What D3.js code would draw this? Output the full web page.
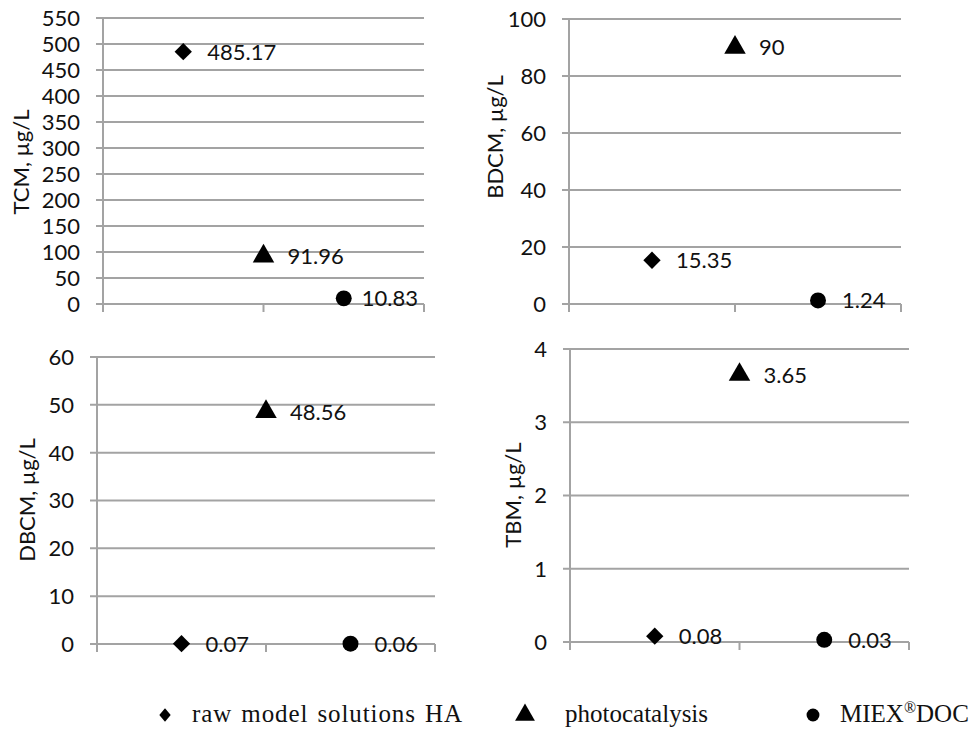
<!DOCTYPE html>
<html lang="en">
<head>
  <meta charset="UTF-8">
  <title>THM concentrations - D3</title>
  <script src="https://cdn.jsdelivr.net/npm/d3@7"></script>
  <style>
    body { margin: 0; background: #fff; }
    svg text { font-family: Lato, "Open Sans", sans-serif; fill: #111; }
  </style>
</head>
<body>
<script>
  // series (one point per panel each)
  var series = ['raw model solutions HA', 'photocatalysis', 'MIEX®DOC'];
  var seriesX = [1, 2, 3];
  var tcm = [485.17, 91.96, 10.83];
  var bdcm = [15.35, 90, 1.24];
  var dbcm = [0.07, 48.56, 0.06];
  var tbm = [0.08, 3.65, 0.03];
  var axisTitles = ['TCM, µg/L', 'BDCM, µg/L', 'DBCM, µg/L', 'TBM, µg/L'];
  var yMax = [550, 100, 60, 4];
  var yStep = [50, 20, 10, 1];

  // panel boxes (layout only)
  var panels = [
    {vals: tcm,  x0: 103, x1: 424, y0: 18,  y1: 304, tx: 21,  ty: 162},
    {vals: bdcm, x0: 569, x1: 901, y0: 19,  y1: 304, tx: 495, ty: 137},
    {vals: dbcm, x0: 97,  x1: 435, y0: 357, y1: 644, tx: 27,  ty: 500},
    {vals: tbm,  x0: 570, x1: 909, y0: 349, y1: 642, tx: 513, ty: 495}
  ];

  var svg = d3.select('body').append('svg')
    .attr('width', 971)
    .attr('height', 729);

  var grey = '#a3a3a3';

  function marker(sel, i, size) {
    var types = [d3.symbolSquare, d3.symbolTriangle, d3.symbolCircle];
    return sel.append('path')
      .attr('d', d3.symbol().type(types[i]).size(size[i]))
      .attr('fill', '#000');
  }

  panels.forEach(function(p, k) {
    var x = d3.scaleLinear().domain([0, 4]).range([p.x0, p.x1]);
    var y = d3.scaleLinear().domain([0, yMax[k]]).range([p.y1, p.y0]);
    var g = svg.append('g');

    // gridlines + y labels
    var yt = d3.range(0, yMax[k] + yStep[k] / 2, yStep[k]);
    g.selectAll('line.grid').data(yt).enter().append('line')
      .attr('x1', p.x0 - 7).attr('x2', p.x1)
      .attr('y1', function(d) { return y(d); })
      .attr('y2', function(d) { return y(d); })
      .attr('stroke', grey).attr('stroke-width', 2);

    g.selectAll('text.yl').data(yt).enter().append('text')
      .attr('x', p.x0 - 23)
      .attr('y', function(d) { return y(d); })
      .attr('dy', '0.36em')
      .attr('text-anchor', 'end')
      .style('font-size', '22px')
      .text(function(d) { return d; });

    // axes
    g.append('line')
      .attr('x1', p.x0).attr('x2', p.x0)
      .attr('y1', p.y0).attr('y2', p.y1 + 8)
      .attr('stroke', grey).attr('stroke-width', 2);
    g.selectAll('line.xt').data([2, 4]).enter().append('line')
      .attr('x1', function(d) { return x(d); })
      .attr('x2', function(d) { return x(d); })
      .attr('y1', p.y1).attr('y2', p.y1 + 8)
      .attr('stroke', grey).attr('stroke-width', 2);

    // axis title
    g.append('text')
      .attr('transform', 'translate(' + p.tx + ',' + p.ty + ') rotate(-90)')
      .attr('text-anchor', 'middle')
      .attr('dy', '0.36em')
      .style('font-size', '22px')
      .text(axisTitles[k]);

    // points + value labels
    p.vals.forEach(function(v, i) {
      var px = x(seriesX[i]), py = y(v);
      marker(g, i, [150, 200, 200])
        .attr('transform', 'translate(' + px + ',' + py + ')' + (i === 0 ? ' rotate(45)' : ''));
      var t = g.append('text')
        .attr('x', px + 24)
        .attr('y', py)
        .attr('dy', '0.36em')
        .style('font-size', '22px')
        .text(v);
      var w = t.node().getComputedTextLength();
      if (px + 24 + w > p.x1 - 6) t.attr('x', p.x1 - 6 - w);
    });
  });

  // legend
  var legX = [165, 525, 813];
  var legTextX = [192, 565, 840];
  var leg = svg.append('g');
  series.forEach(function(s, i) {
    marker(leg, i, [90, 170, 130])
      .attr('transform', 'translate(' + legX[i] + ',715)' + (i === 0 ? ' scale(0.85,1) rotate(45)' : ''));
    var t = leg.append('text')
      .attr('x', legTextX[i])
      .attr('y', 722)
      .style('font-family', '"Liberation Serif", "Times New Roman", serif')
      .style('font-size', '25px')
      .style('letter-spacing', i === 0 ? '0.9px' : null)
      .style('word-spacing', i === 0 ? '2px' : null);
    if (s.indexOf('®') >= 0) {
      var parts = s.split('®');
      t.append('tspan').text(parts[0]);
      t.append('tspan').attr('dy', -9).style('font-size', '16px').text('®');
      t.append('tspan').attr('dy', 9).text(parts[1]);
    } else {
      t.text(s);
    }
  });
</script>
</body>
</html>
